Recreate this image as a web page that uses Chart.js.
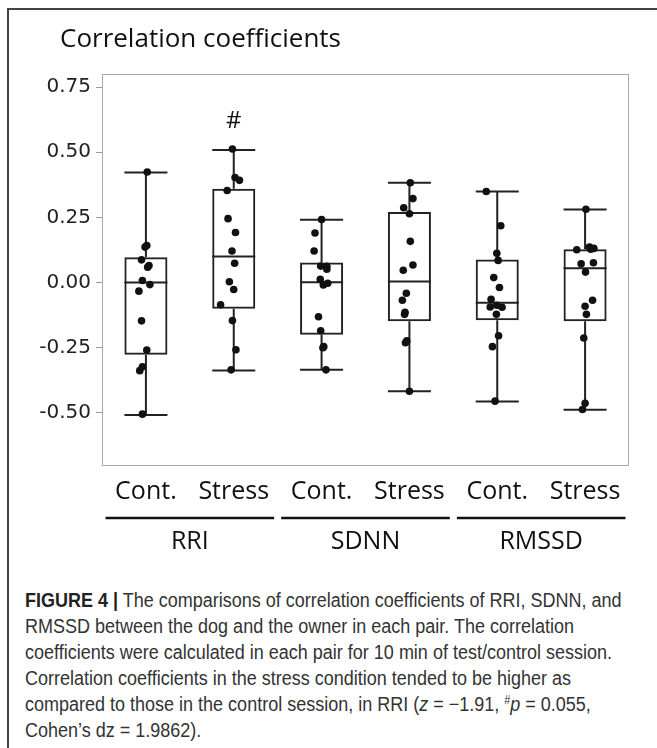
<!DOCTYPE html>
<html>
<head>
<meta charset="utf-8">
<script src="https://cdn.jsdelivr.net/npm/chart.js@4.4.1/dist/chart.umd.min.js"></script>
<style>
  body { margin: 0; width: 657px; height: 748px; overflow: hidden; background: #fff; position: relative; }
  #frame { position: absolute; left: 7px; top: 8px; width: 720px; height: 800px; border-left: 2px solid #444; border-top: 2px solid #444; }
  #chart { position: absolute; left: 0; top: 0; }
  #caption { position: absolute; left: 25px; top: 587px; font-family: "Liberation Sans", Arial, sans-serif; font-size: 20px; line-height: 26px; color: #333; white-space: nowrap; transform: scaleX(0.9); transform-origin: 0 0; }
  #caption b { color: #222; }
  #caption sup { font-size: 12px; line-height: 0; vertical-align: 7px; }
</style>
</head>
<body>
<div id="frame"></div>
<canvas id="chart" width="657" height="580"></canvas>
<div id="caption">
<b>FIGURE 4 |</b> The comparisons of correlation coefficients of RRI, SDNN, and<br>
RMSSD between the dog and the owner in each pair. The correlation<br>
coefficients were calculated in each pair for 10 min of test/control session.<br>
Correlation coefficients in the stress condition tended to be higher as<br>
compared to those in the control session, in RRI (<i>z</i> = &minus;1.91, <sup>#</sup><i>p</i> = 0.055,<br>
Cohen&rsquo;s dz = 1.9862).
</div>
<script>
// Categories and tick labels
const conditionLabels = ['Cont.', 'Stress', 'Cont.', 'Stress', 'Cont.', 'Stress'];
const groupLabels = ['RRI', 'SDNN', 'RMSSD'];
const yTicks = [-0.5, -0.25, 0, 0.25, 0.5, 0.75];

// Box plot summary values (per condition)
const whiskerLow = [-0.508, -0.337, -0.335, -0.417, -0.456, -0.488];
const q1 = [-0.277, -0.101, -0.200, -0.149, -0.145, -0.149];
const median = [0.000, 0.100, 0.001, 0.004, -0.078, 0.055];
const q3 = [0.097, 0.360, 0.077, 0.271, 0.088, 0.128];
const whiskerHigh = [0.422, 0.508, 0.241, 0.383, 0.349, 0.280];

// Individual pair values
const rriCont = [0.424, 0.142, 0.136, 0.087, 0.065, 0.059, 0.008, -0.008, -0.033, -0.147, -0.259, -0.323, -0.338, -0.505];
const rriStress = [0.512, 0.403, 0.392, 0.353, 0.245, 0.192, 0.121, 0.074, 0.003, -0.027, -0.085, -0.146, -0.258, -0.335];
const sdnnCont = [0.242, 0.190, 0.121, 0.063, 0.062, 0.051, 0.012, -0.009, -0.003, -0.131, -0.185, -0.250, -0.246, -0.335];
const sdnnStress = [0.383, 0.322, 0.287, 0.264, 0.158, 0.067, 0.047, -0.041, -0.068, -0.114, -0.122, -0.224, -0.231, -0.417];
const rmssdCont = [0.349, 0.218, 0.112, 0.085, 0.019, -0.019, -0.064, -0.094, -0.087, -0.095, -0.122, -0.204, -0.246, -0.455];
const rmssdStress = [0.281, 0.126, 0.136, 0.131, 0.128, 0.072, 0.076, 0.040, -0.068, -0.091, -0.122, -0.213, -0.463, -0.487];

// Horizontal jitter of each dot (in category units), as seen in the picture
const rriContJitter = [0.015, 0.01, -0.01, -0.05, 0.035, 0.02, -0.04, 0.045, -0.08, -0.05, 0.01, -0.04, -0.07, -0.04];
const rriStressJitter = [-0.015, 0.015, 0.065, -0.075, -0.065, 0.02, -0.02, 0.01, -0.05, 0, -0.15, -0.015, 0.025, -0.03];
const sdnnContJitter = [0, -0.075, -0.085, -0.01, 0.06, 0.06, -0.015, 0.02, 0.07, -0.035, -0.01, 0.015, 0.025, 0.05];
const sdnnStressJitter = [0.01, 0.04, -0.065, 0, 0.01, 0.04, -0.07, -0.035, -0.08, -0.05, -0.055, -0.03, -0.045, 0];
const rmssdContJitter = [-0.125, 0.04, -0.005, 0.01, -0.04, 0.025, -0.07, -0.08, -0.005, 0.055, -0.01, 0.015, -0.055, -0.025];
const rmssdStressJitter = [0.01, -0.095, 0.05, 0.1, 0.065, -0.045, 0.095, 0.005, 0.085, 0, 0.015, -0.015, 0, -0.03];

const pointSets = [rriCont, rriStress, sdnnCont, sdnnStress, rmssdCont, rmssdStress];
const jitterSets = [rriContJitter, rriStressJitter, sdnnContJitter, sdnnStressJitter, rmssdContJitter, rmssdStressJitter];

// Build scatter points
let dots = [];
pointSets.forEach(function(vals, g) {
    vals.forEach(function(v, j) {
        dots.push({ x: g + jitterSets[g][j], y: v });
    });
});

// Boxes as floating bars
let boxes = q1.map(function(lo, i) { return { x: i, y: [lo, q3[i]] }; });

const labelFont = '"Open Sans", "Noto Sans", sans-serif';

// Whiskers, caps and medians under the dots
const whiskerPlugin = {
    id: 'whiskers',
    beforeDatasetsDraw(chart) {
        const ctx = chart.ctx;
        const y = chart.scales.y;
        const meta = chart.getDatasetMeta(1);
        ctx.save();
        ctx.strokeStyle = '#222';
        ctx.lineWidth = 2;
        meta.data.forEach(function(bar, i) {
            const p = bar.getProps(['x', 'width'], true);
            const half = p.width / 2;
            const yHi = y.getPixelForValue(whiskerHigh[i]);
            const yLo = y.getPixelForValue(whiskerLow[i]);
            const yQ3 = y.getPixelForValue(q3[i]);
            const yQ1 = y.getPixelForValue(q1[i]);
            const yMed = y.getPixelForValue(median[i]);
            ctx.beginPath();
            ctx.moveTo(p.x, yHi); ctx.lineTo(p.x, yQ3);
            ctx.moveTo(p.x, yQ1); ctx.lineTo(p.x, yLo);
            ctx.moveTo(p.x - half, yHi); ctx.lineTo(p.x + half, yHi);
            ctx.moveTo(p.x - half, yLo); ctx.lineTo(p.x + half, yLo);
            ctx.moveTo(p.x - half, yMed); ctx.lineTo(p.x + half, yMed);
            ctx.stroke();
        });
        ctx.restore();
    }
};

// Frame, title, significance mark and group labels
const decorPlugin = {
    id: 'decor',
    afterDraw(chart) {
        const ctx = chart.ctx;
        const area = chart.chartArea;
        const x = chart.scales.x;
        const y = chart.scales.y;
        ctx.save();
        // plot frame
        ctx.strokeStyle = '#aaa';
        ctx.lineWidth = 1;
        ctx.strokeRect(area.left + 0.5, area.top + 0.5, area.right - area.left - 1, area.bottom - area.top);

        // title
        ctx.fillStyle = '#111';
        ctx.font = '26px ' + labelFont;
        ctx.textAlign = 'left';
        ctx.textBaseline = 'middle';
        ctx.fillText('Correlation coefficients', 60, 40);

        // significance mark over RRI stress
        ctx.textAlign = 'center';
        ctx.font = '24px ' + labelFont;
        ctx.fillText('#', x.getPixelForValue(1), y.getPixelForValue(0.62));

        // group lines and labels
        ctx.strokeStyle = '#111';
        ctx.lineWidth = 2.5;
        ctx.font = '25px ' + labelFont;
        groupLabels.forEach(function(label, k) {
            const c = 2 * k + 0.5;
            const left = x.getPixelForValue(c - 0.96);
            const right = x.getPixelForValue(c + 0.96);
            ctx.beginPath();
            ctx.moveTo(left, 518);
            ctx.lineTo(right, 518);
            ctx.stroke();
            ctx.fillText(label, x.getPixelForValue(c), 542);
        });
        ctx.restore();
    }
};

new Chart(document.getElementById('chart').getContext('2d'), {
    data: {
        datasets: [{
            type: 'scatter',
            data: dots,
            pointRadius: 3.8,
            pointBackgroundColor: '#111',
            pointBorderWidth: 0
        }, {
            type: 'bar',
            data: boxes,
            backgroundColor: 'rgba(255,255,255,0)',
            borderColor: '#222',
            borderWidth: 2,
            borderSkipped: false,
            categoryPercentage: 1,
            barPercentage: 0.49
        }]
    },
    options: {
        responsive: false,
        animation: false,
        layout: { padding: { left: 0, right: 28, top: 74, bottom: 0 } },
        plugins: {
            legend: { display: false },
            tooltip: { enabled: false },
            title: { display: false }
        },
        scales: {
            x: {
                type: 'linear',
                offset: false,
                min: -0.5,
                max: 5.5,
                afterBuildTicks: function(scale) {
                    scale.ticks = conditionLabels.map(function(l, i) { return { value: i }; });
                },
                afterFit: function(scale) { scale.height = 115; },
                grid: { display: false, drawTicks: false, offset: false },
                border: { display: false },
                ticks: {
                    padding: 12,
                    color: '#111',
                    font: { family: labelFont, size: 25 },
                    maxRotation: 0,
                    autoSkip: false,
                    callback: function(v) { return conditionLabels[v]; }
                }
            },
            y: {
                min: -0.70,
                max: 0.80,
                afterBuildTicks: function(scale) {
                    scale.ticks = yTicks.map(function(v) { return { value: v }; });
                },
                afterFit: function(scale) { scale.width = 102; },
                grid: { drawOnChartArea: false, drawTicks: true, tickLength: 6, color: '#999' },
                border: { display: false },
                ticks: {
                    padding: 5,
                    color: '#222',
                    font: { family: '"DejaVu Sans", sans-serif', size: 20 },
                    callback: function(v) { return v.toFixed(2); }
                }
            }
        }
    },
    plugins: [whiskerPlugin, decorPlugin]
});
</script>
</body>
</html>
